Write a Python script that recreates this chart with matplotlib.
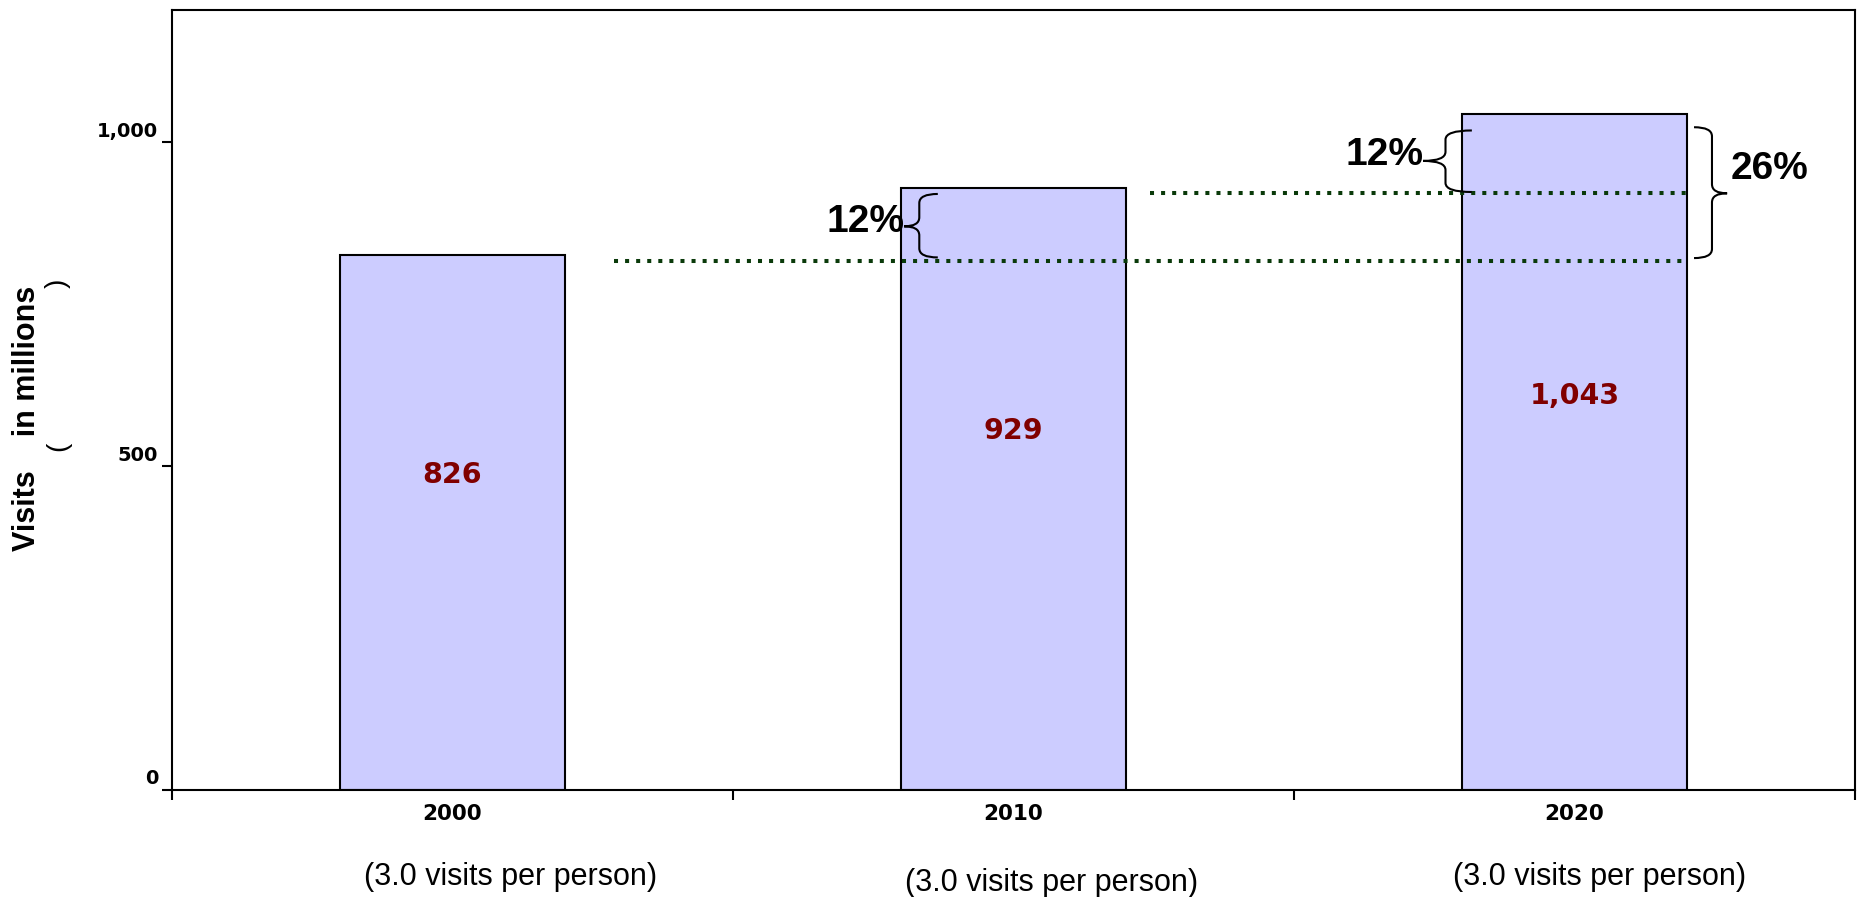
import numpy as np
import matplotlib.pyplot as plt
import matplotlib.transforms as mtransforms
from matplotlib.path import Path
from matplotlib.patches import PathPatch

###############################################################################
# Data

years = ['2000', '2010', '2020']
visits = [826, 929, 1043]                  # millions of visits
value_label_levels = [486, 554, 608]       # where the numbers sit inside the bars
per_person = ['(3.0 visits per person)'] * 3
yticks = [0, 500, 1000]
yticklabels = ['0', '500', '1,000']

# dotted reference lines (level of 2000 and 2010)
ref_levels = [816, 922]
# growth braces: (low, high, middle) and their labels
brace_spans = [(822, 920, 870), (923, 1018, 971), (821, 1023, 921)]
growth_labels = ['12%', '12%', '26%']

###############################################################################
# Helpers


def draw_brace(ax, y0, y1, ymid, x_tip, x_stem, x_hook, d=14):
    verts = [(x_hook, y1),
             (x_stem, y1), (x_stem, y1 - d),
             (x_stem, ymid + d),
             (x_stem, ymid), (x_tip, ymid),
             (x_stem, ymid), (x_stem, ymid - d),
             (x_stem, y0 + d),
             (x_stem, y0), (x_hook, y0)]
    codes = [Path.MOVETO,
             Path.CURVE3, Path.CURVE3,
             Path.LINETO,
             Path.CURVE3, Path.CURVE3,
             Path.CURVE3, Path.CURVE3,
             Path.LINETO,
             Path.CURVE3, Path.CURVE3]
    ax.add_patch(PathPatch(Path(verts, codes), facecolor='none',
                           edgecolor='black', linewidth=1.5, zorder=4,
                           clip_on=False))


###############################################################################
# Plot

x = np.arange(len(years))
width = 0.4

fig = plt.figure(figsize=(18.58, 8.97), dpi=100)
ax = fig.add_axes([0.0926, 0.1193, 0.9058, 0.8696])

ax.bar(x, visits, width=width, color='#ccccff', edgecolor='black',
       linewidth=1.5, zorder=2)

ax.set_xlim(-0.5, 2.5)
ax.set_ylim(0, 1204)

# value labels inside bars
for xi, v, lvl in zip(x, visits, value_label_levels):
    ax.text(xi, lvl, f'{v:,}', ha='center', va='center', color='#800000',
            fontsize=20.5, fontweight='bold', family='DejaVu Sans', zorder=5)

# dotted reference lines
dot_style = dict(color='#0a3a0a', linewidth=2.9, linestyle=(0, (1.0, 1.75)),
                 zorder=3)
right_end = x[2] + width / 2
ax.hlines(ref_levels[0], x[0] + width / 2 + 0.087, right_end, **dot_style)
ax.hlines(ref_levels[1], x[1] + width / 2 + 0.043, right_end, **dot_style)

# braces and growth labels
pct_font = dict(family='Liberation Sans', fontweight='bold', fontsize=28)
left1 = x[1] - width / 2
left2 = x[2] - width / 2
right2 = x[2] + width / 2

y0, y1, ym = brace_spans[0]
draw_brace(ax, y0, y1, ym, left1 + 0.005, left1 + 0.032, left1 + 0.065)
ax.text(left1 + 0.005, ym + 7, growth_labels[0], ha='right', va='center',
        **pct_font)

y0, y1, ym = brace_spans[1]
draw_brace(ax, y0, y1, ym, left2 - 0.07, left2 - 0.03, left2 + 0.017)
ax.text(left2 - 0.07, ym + 9, growth_labels[1], ha='right', va='center',
        **pct_font)

y0, y1, ym = brace_spans[2]
draw_brace(ax, y0, y1, ym, right2 + 0.072, right2 + 0.045, right2 + 0.013)
ax.text(right2 + 0.078, ym + 37, growth_labels[2], ha='left', va='center',
        **pct_font)

# spines and ticks
for sp in ax.spines.values():
    sp.set_linewidth(1.5)

ax.set_yticks(yticks)
ax.set_yticklabels(yticklabels, family='DejaVu Sans', fontweight='bold',
                   fontsize=14)
ax.tick_params(axis='y', length=7, width=1.5, pad=3)
shift = mtransforms.ScaledTranslation(0, 13 / 100, fig.dpi_scale_trans)
for lab in ax.get_yticklabels():
    lab.set_transform(lab.get_transform() + shift)

ax.set_xticks([-0.5, 0.5, 1.5, 2.5])
ax.set_xticklabels([])
ax.tick_params(axis='x', which='major', length=7, width=1.5)
ax.set_xticks(x, minor=True)
ax.set_xticklabels(years, minor=True, family='DejaVu Sans',
                   fontweight='bold', fontsize=15.5)
ax.tick_params(axis='x', which='minor', length=0, pad=10)

# visits per person under each year
trans = mtransforms.blended_transform_factory(ax.transData, ax.transAxes)
for xi, txt, dx, yy in zip(x, per_person, [0.104, 0.067, 0.044],
                           [-0.111, -0.119, -0.111]):
    ax.text(xi + dx, yy, txt, transform=trans, ha='center', va='center',
            family='Liberation Sans', fontsize=22)

# y axis title, with the brackets sitting on a second line
fig.text(27 / 1858, 0.534, 'Visits    in millions', rotation=90,
         ha='center', va='center', family='Liberation Sans',
         fontweight='bold', fontsize=22)
fig.text(58 / 1858, (897 - 446) / 897, '(', rotation=90, ha='center',
         va='center', family='Liberation Sans', fontsize=20)
fig.text(58 / 1858, (897 - 283) / 897, ')', rotation=90, ha='center',
         va='center', family='Liberation Sans', fontsize=20)

fig.savefig('out.png', dpi=100)
